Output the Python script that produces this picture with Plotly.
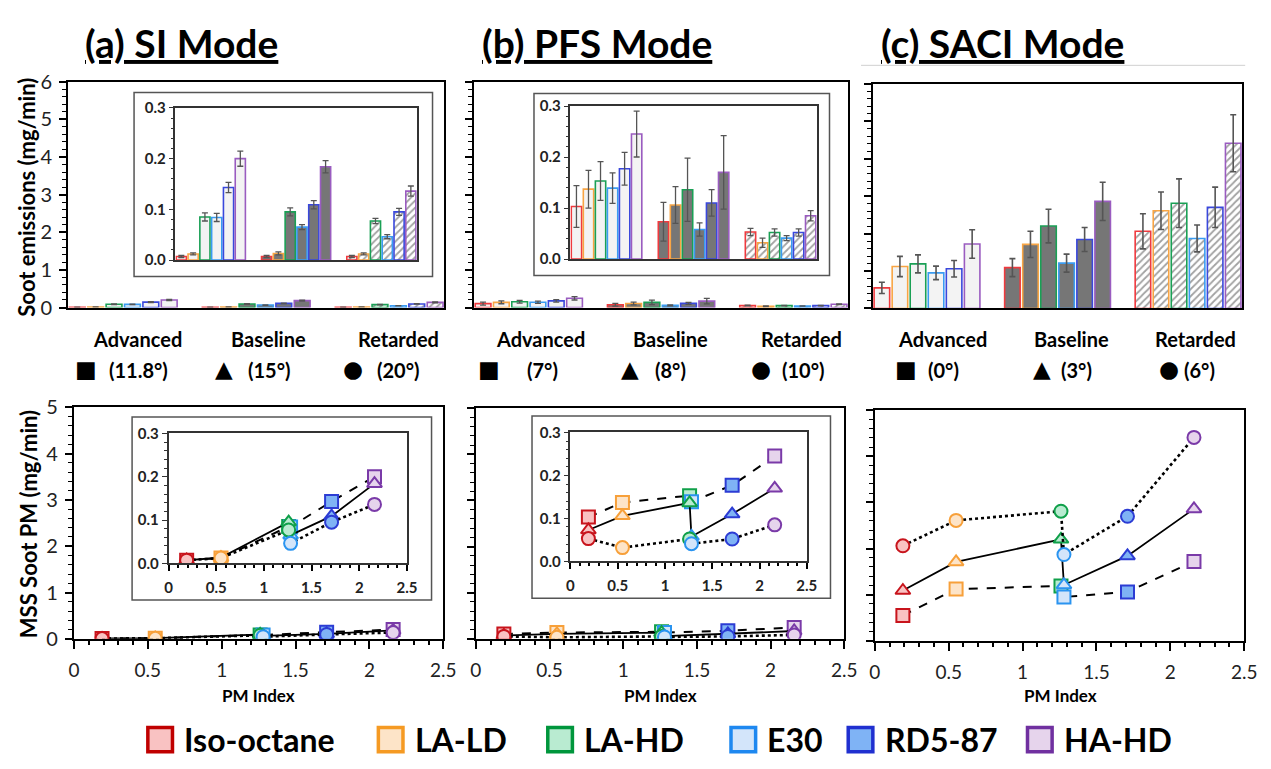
import plotly.graph_objects as go

W, H = 1271, 769

# ---------------- data ----------------
FUELS = ["Iso-octane", "LA-LD", "LA-HD", "E30", "RD5-87", "HA-HD"]
PM_INDEX = [0.19, 0.55, 1.26, 1.28, 1.71, 2.16]
TIMINGS = ["Advanced", "Baseline", "Retarded"]

# SI mode soot emissions (mg/min)
SI_ADV = [0.007, 0.012, 0.085, 0.084, 0.143, 0.200]
SI_BASE = [0.007, 0.013, 0.095, 0.065, 0.109, 0.184]
SI_RET = [0.007, 0.012, 0.077, 0.046, 0.095, 0.136]
SI_ADV_ERR = [0.002, 0.002, 0.008, 0.008, 0.010, 0.015]
SI_BASE_ERR = [0.002, 0.003, 0.008, 0.005, 0.008, 0.012]
SI_RET_ERR = [0.002, 0.002, 0.005, 0.004, 0.007, 0.010]

# PFS mode soot emissions (mg/min)
PFS_ADV = [0.103, 0.137, 0.153, 0.139, 0.177, 0.245]
PFS_BASE = [0.073, 0.106, 0.136, 0.058, 0.110, 0.170]
PFS_RET = [0.053, 0.032, 0.052, 0.041, 0.052, 0.085]
PFS_ADV_ERR = [0.041, 0.037, 0.038, 0.030, 0.032, 0.045]
PFS_BASE_ERR = [0.038, 0.036, 0.062, 0.013, 0.026, 0.072]
PFS_RET_ERR = [0.007, 0.009, 0.007, 0.005, 0.007, 0.010]

# SACI mode soot emissions (mg/min)
SACI_ADV = [0.55, 1.12, 1.19, 0.95, 1.06, 1.72]
SACI_BASE = [1.09, 1.71, 2.20, 1.21, 1.84, 2.86]
SACI_RET = [2.06, 2.61, 2.81, 1.87, 2.70, 4.41]
SACI_ADV_ERR = [0.15, 0.27, 0.24, 0.18, 0.22, 0.38]
SACI_BASE_ERR = [0.24, 0.35, 0.45, 0.24, 0.32, 0.51]
SACI_RET_ERR = [0.47, 0.50, 0.65, 0.36, 0.54, 0.76]

SI_ANGLES = ["(11.8°)", "(15°)", "(20°)"]
PFS_ANGLES = ["(7°)", "(8°)", "(10°)"]
SACI_ANGLES = ["(0°)", "(3°)", "(6°)"]

# ---------------- styles ----------------
BAR_EDGE = ["#f03a3e", "#f8a544", "#1aa055", "#3a9cf2", "#3a48dc", "#9a5cc0"]
MK_EDGE = ["#c8141c", "#f7a03a", "#10a04a", "#2a94f0", "#2c3cd4", "#7a3aa8"]
MK_FILL = ["#f9c2c2", "#fde4c8", "#b9ebd1", "#d3e5fa", "#7fb3f5", "#e6d4ec"]
LEG_EDGE = ["#c00000", "#f59a23", "#00963c", "#1e88f0", "#2030d0", "#7030a0"]
FONT = "Lato"


def xd(x0, x1):
    return [x0 / W, x1 / W]


def yd(y0, y1):
    return [1 - y1 / H, 1 - y0 / H]


def px(x):
    return x / W


def py(y):
    return 1 - y / H


fig = go.Figure()

bar_sets = [
    (1, SI_ADV, SI_BASE, SI_RET, (SI_ADV_ERR, SI_BASE_ERR, SI_RET_ERR)),
    (2, SI_ADV, SI_BASE, SI_RET, (SI_ADV_ERR, SI_BASE_ERR, SI_RET_ERR)),
    (3, PFS_ADV, PFS_BASE, PFS_RET, (PFS_ADV_ERR, PFS_BASE_ERR, PFS_RET_ERR)),
    (4, PFS_ADV, PFS_BASE, PFS_RET, (PFS_ADV_ERR, PFS_BASE_ERR, PFS_RET_ERR)),
    (5, SACI_ADV, SACI_BASE, SACI_RET, (SACI_ADV_ERR, SACI_BASE_ERR, SACI_RET_ERR)),
]

for ax, adv, base, ret, errs in bar_sets:
    sfx = "" if ax == 1 else str(ax)
    for i, fuel in enumerate(FUELS):
        fig.add_trace(go.Bar(
            x=[0, 1, 2],
            y=[adv[i], base[i], ret[i]],
            name=fuel,
            showlegend=False,
            xaxis="x" + sfx, yaxis="y" + sfx,
            marker=dict(
                color=["#f3f3f3", "#767676", "white"],
                line=dict(color=BAR_EDGE[i], width=1.6),
                pattern=dict(shape=["", "", "/"], fgcolor="#5a5a5a",
                             bgcolor="white", size=5, solidity=0.35),
            ),
            error_y=dict(type="data", array=[errs[0][i], errs[1][i], errs[2][i]],
                         color="#555555", thickness=1.6 if ax == 5 else 1.3,
                         width=3),
        ))

# scatter (MSS soot PM vs PM index)
scatter_sets = [
    (6, SI_ADV, SI_BASE, SI_RET),
    (7, SI_ADV, SI_BASE, SI_RET),
    (8, PFS_ADV, PFS_BASE, PFS_RET),
    (9, PFS_ADV, PFS_BASE, PFS_RET),
    (10, SACI_ADV, SACI_BASE, SACI_RET),
]
styles = [("square", "dash", 2.0), ("triangle-up", "solid", 1.8), ("circle", "dot", 2.6)]
for ax, adv, base, ret in scatter_sets:
    sfx = str(ax)
    for (sym, dash, lw), vals, tname in zip(styles, (adv, base, ret), TIMINGS):
        fig.add_trace(go.Scatter(
            x=PM_INDEX, y=vals, name=tname, showlegend=False,
            xaxis="x" + sfx, yaxis="y" + sfx,
            mode="lines+markers",
            line=dict(color="black", width=lw, dash=dash),
            marker=dict(symbol=sym, size=13, color=MK_FILL,
                        line=dict(color=MK_EDGE, width=2)),
        ))

# ---------------- axes ----------------
BAR_RANGE = [-0.415, 2.415]
main_line = dict(showline=True, linecolor="black", linewidth=2, mirror=True,
                 zeroline=False, showgrid=False)
inset_line = dict(showline=True, linecolor="#333333", linewidth=1.5, mirror=True,
                  zeroline=False, showgrid=False)
tick_font = dict(family=FONT, size=20, color="#222222")
xtick_font = dict(family=FONT, size=19, color="#222222")
inset_font = dict(family=FONT, size=15, color="#222222", weight="bold")

layout = dict(
    width=W, height=H, autosize=False,
    margin=dict(l=0, r=0, t=0, b=0),
    paper_bgcolor="white", plot_bgcolor="rgba(0,0,0,0)",
    barmode="group", bargap=0.17, bargroupgap=0.14,
    showlegend=False,
)


def bar_x(dom, anchor):
    return dict(domain=dom, anchor=anchor, range=BAR_RANGE, showticklabels=False,
                ticks="", fixedrange=True, **main_line)


def main_y(dom, anchor, rng, labels):
    return dict(domain=dom, anchor=anchor, range=rng, dtick=1, ticks="outside",
                ticklen=7, tickwidth=1.5, tickcolor="black",
                showticklabels=labels, tickfont=tick_font, ticklabelstandoff=3,
                minor=dict(dtick=0.2, ticks="outside", ticklen=4, tickwidth=1,
                           tickcolor="black"),
                **main_line)


def inset_bar_x(dom, anchor):
    return dict(domain=dom, anchor=anchor, range=BAR_RANGE, showticklabels=False,
                ticks="", **inset_line)


def inset_y(dom, anchor):
    return dict(domain=dom, anchor=anchor, range=[0, 0.3], dtick=0.1,
                tickformat=".1f", ticks="outside", ticklen=5, tickwidth=1.3,
                tickcolor="#333333", tickfont=inset_font,
                minor=dict(dtick=0.02, ticks="outside", ticklen=3,
                           tickcolor="#333333"),
                **inset_line)


def pm_x(dom, anchor, font, inset=False):
    base = inset_line if inset else main_line
    return dict(domain=dom, anchor=anchor, range=[0, 2.5], dtick=0.5,
                ticks="outside", ticklen=6 if inset else 8, tickwidth=1.5,
                tickcolor="black", tickfont=font,
                ticklabelstandoff=4 if inset else 5,
                minor=dict(dtick=0.1, ticks="outside", ticklen=3 if inset else 4,
                           tickcolor="black"),
                **base)


# top row
layout["xaxis"] = bar_x(xd(63, 445), "y")
layout["yaxis"] = main_y(yd(71, 304), "x", [0, 6], True)
layout["xaxis2"] = inset_bar_x(xd(172, 417), "y2")
layout["yaxis2"] = inset_y(yd(98, 255), "x2")
layout["xaxis3"] = bar_x(xd(475, 855), "y3")
layout["yaxis3"] = main_y(yd(71, 304), "x3", [0, 6], False)
layout["xaxis4"] = inset_bar_x(xd(573, 823), "y4")
layout["yaxis4"] = inset_y(yd(96, 254), "x4")
layout["xaxis5"] = bar_x(xd(880, 1255), "y5")
layout["yaxis5"] = main_y(yd(73, 305), "x5", [0, 6], False)
# bottom row
layout["xaxis6"] = pm_x(xd(69, 444), "y6", xtick_font)
layout["yaxis6"] = main_y(yd(407, 646), "x6", [0, 5], True)
layout["xaxis7"] = pm_x(xd(165, 407), "y7", inset_font, inset=True)
layout["yaxis7"] = inset_y(yd(434, 568), "x7")
layout["xaxis8"] = pm_x(xd(477, 851), "y8", xtick_font)
layout["yaxis8"] = main_y(yd(408, 646), "x8", [0, 5], False)
layout["xaxis9"] = pm_x(xd(573, 813), "y9", inset_font, inset=True)
layout["yaxis9"] = inset_y(yd(433, 566), "x9")
layout["xaxis10"] = pm_x(xd(882, 1257), "y10", xtick_font)
layout["yaxis10"] = main_y(yd(410, 648), "x10", [0, 5], False)

# ---------------- shapes ----------------
shapes = []
for x0, y0, x1, y1 in [(130, 82, 433, 272), (536, 83, 836, 271),
                       (128, 417, 432, 606), (534, 416, 837, 604)]:
    shapes.append(dict(type="rect", xref="paper", yref="paper",
                       x0=px(x0), x1=px(x1), y0=py(y1), y1=py(y0),
                       line=dict(color="#555555", width=1.5)))
# light separator line under (c) title
shapes.append(dict(type="line", xref="paper", yref="paper",
                   x0=px(868), x1=px(1258), y0=py(54), y1=py(54),
                   line=dict(color="#d0d0d0", width=1)))

# legend
LEG_X = [144, 378, 550, 736, 855, 1037]
LEG_Y = 750
SQ = 25
annotations = []
for i, fuel in enumerate(FUELS):
    x0 = LEG_X[i]
    shapes.append(dict(type="rect", xref="paper", yref="paper",
                       x0=px(x0), x1=px(x0 + SQ), y0=py(LEG_Y + SQ / 2), y1=py(LEG_Y - SQ / 2),
                       fillcolor=MK_FILL[i], line=dict(color=LEG_EDGE[i], width=3.5)))
    annotations.append(dict(xref="paper", yref="paper", x=px(x0 + SQ + 10), y=py(LEG_Y),
                            xanchor="left", yanchor="middle", showarrow=False,
                            text="<b>%s</b>" % fuel,
                            font=dict(family=FONT, size=32, color="black")))


# ---------------- annotations ----------------
def ann(x, y, text, size, bold=True, angle=0, xanchor="center", family=FONT):
    annotations.append(dict(xref="paper", yref="paper", x=px(x), y=py(y),
                            xanchor=xanchor, yanchor="middle", showarrow=False,
                            textangle=angle,
                            text=("<b>%s</b>" % text) if bold else text,
                            font=dict(family=family, size=size, color="black")))


ann(178, 31, "<u>(a) SI Mode</u>", 39)
ann(600, 31, "<u>(b) PFS Mode</u>", 39)
ann(1012, 31, "<u>(c) SACI Mode</u>", 39)

ann(20, 190, "Soot emissions (mg/min)", 22, angle=-90)
ann(23, 528, "MSS Soot PM (mg/min)", 22, angle=-90)

for cx in (256, 664, 1070):
    ann(cx, 704, "PM Index", 17)

# timing labels under the bar charts
timing_x = [(133, 266, 398), (543, 675, 808), (951, 1082, 1208)]
sym_x = [(81, 221, 352), (490, 633, 766), (914, 1052, 1181)]
ang_x = [(135, 268, 398), (545, 675, 810), (952, 1087, 1212)]
angle_sets = [SI_ANGLES, PFS_ANGLES, SACI_ANGLES]
symbols = ["■", "▲", "●"]
for p in range(3):
    for t in range(3):
        ann(timing_x[p][t], 337, TIMINGS[t], 20)
        ann(sym_x[p][t], 367, symbols[t], 23, bold=False, family="DejaVu Sans")
        ann(ang_x[p][t], 368, angle_sets[p][t], 20)

layout["shapes"] = shapes
layout["annotations"] = annotations
fig.update_layout(**layout)

fig.write_html("out.html")
